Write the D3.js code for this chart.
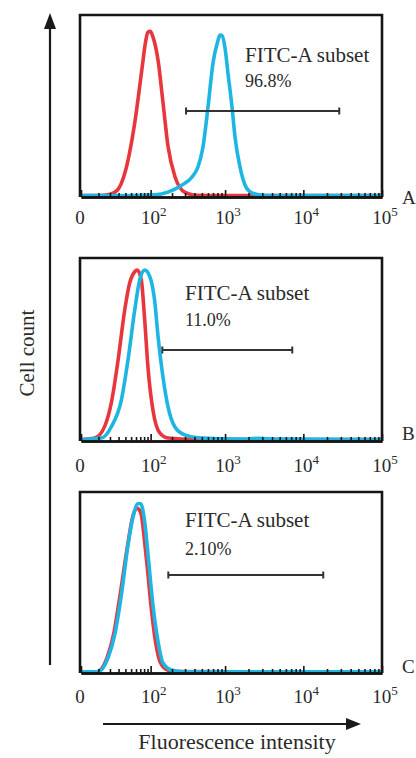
<!DOCTYPE html>
<html>
<head>
<meta charset="utf-8">
<title></title>
<script src="https://d3js.org/d3.v7.min.js"></script>
<style>
  body{margin:0;background:#fff;}
  text{font-family:"Liberation Serif","Times New Roman",serif;fill:#2a2a2a;}
</style>
</head>
<body>
<svg width="416" height="758"></svg>
<script>
// panel data
var panelNames = ['A', 'B', 'C'];
var gateTitle = 'FITC-A subset';
var gateLabels = ['96.8%', '11.0%', '2.10%'];
var gateRanges = [[309, 28640], [147, 7230], [178, 17920]];

// axis ticks
var majorTicks = [0, 100, 1000, 10000, 100000];
var tickBases = ['0', '10', '10', '10', '10'];
var tickExps = ['', '2', '3', '4', '5'];
var minorTicks = [10, 20, 30, 40, 50, 60, 70, 80, 90,
                  200, 300, 400, 500, 600, 700, 800, 900,
                  2000, 3000, 4000, 5000, 6000, 7000, 8000, 9000,
                  20000, 30000, 40000, 50000, 60000, 70000, 80000, 90000];

// histograms: fluorescence value, % of max count
var redA_x = [0, 10, 20, 29, 39, 58, 74, 84, 91, 99, 108, 128, 150, 176, 220, 299, 406, 1000, 100000];
var redA_y = [0.8, 0.8, 1.5, 4, 13, 42, 70, 85, 90.5, 91, 88, 75, 52, 28, 11, 2.5, 1, 0.8, 0.8];
var blueA_x = [0, 50, 116, 176, 273, 371, 444, 517, 601, 698, 810, 860, 920, 997, 1090, 1228, 1342, 1556, 1803, 2216, 2973, 5000, 100000];
var blueA_y = [0.8, 0.8, 1.2, 2.7, 6.6, 11, 16.5, 27.5, 49.5, 73.6, 86, 89, 88.5, 82, 68, 49.5, 33, 16.5, 6.6, 2.2, 1, 0.8, 0.8];

var redB_x = [0, 7.4, 15, 21.4, 29.3, 38.9, 47.3, 57.2, 62.9, 72.5, 81.7, 91.5, 108, 135, 176, 400, 100000];
var redB_y = [0.8, 1.6, 8, 20.8, 44, 71.6, 86.3, 92.5, 93.4, 88, 66, 40, 16.9, 4.4, 1.6, 0.8, 0.8];
var blueB_x = [0, 12.2, 21.4, 33.8, 44.3, 57.2, 68.5, 81.7, 97, 114, 128, 150, 176, 218, 296, 444, 1500, 2800, 4000, 100000];
var blueB_y = [0.8, 1.6, 7.8, 22.4, 44.3, 71.6, 88, 93.4, 90, 77, 57, 35, 18.8, 7.8, 3.3, 1.8, 1.0, 1.5, 1.0, 0.8];

var redC_x = [0, 9, 17.1, 23.8, 32, 43.4, 53.7, 63.3, 71.8, 81.7, 88.4, 101, 117.6, 139, 176, 257, 100000];
var redC_y = [0.6, 0.7, 8.3, 21, 43, 70, 87, 91, 88, 72, 60, 37.6, 17.3, 5.5, 1.5, 0.8, 0.6];
var blueC_x = [0, 9.7, 18, 25.2, 33.8, 44.3, 53.7, 64.5, 71, 81.7, 93.6, 108, 128, 150, 195, 296, 100000];
var blueC_y = [0.6, 0.7, 8.3, 21, 43, 70.6, 86.2, 93.5, 93.5, 83.4, 61.5, 37.6, 17.3, 5.5, 1.7, 0.7, 0.6];

var reds = [[redA_x, redA_y], [redB_x, redB_y], [redC_x, redC_y]];
var blues = [[blueA_x, blueA_y], [blueB_x, blueB_y], [blueC_x, blueC_y]];

// where each panel sits
var layout = [
  {top: 15,  bottom: 197, textX: 245, titleY: 62,  pctY: 87,  gateY: 111, tickY: 224, letterY: 204},
  {top: 258, bottom: 441, textX: 185, titleY: 300, pctY: 326, gateY: 350, tickY: 472, letterY: 440},
  {top: 492, bottom: 673, textX: 185, titleY: 527, pctY: 555, gateY: 575, tickY: 703, letterY: 673}
];

var RED = '#e8363f', BLUE = '#1db6e3';

var svg = d3.select('svg');
var x = d3.scaleSymlog().constant(15).domain([0, 100000]).range([81, 382]);

function zip(xs, ys) { return xs.map(function(v, i) { return [v, ys[i]]; }); }

layout.forEach(function(L, i) {
  var y = d3.scaleLinear().domain([0, 100]).range([L.bottom, L.top]);
  var g = svg.append('g');

  var line = d3.line()
    .x(function(d) { return x(d[0]); })
    .y(function(d) { return y(d[1]); })
    .curve(d3.curveMonotoneX);

  g.append('path').datum(zip(reds[i][0], reds[i][1]))
    .attr('d', line).attr('fill', 'none')
    .attr('stroke', RED).attr('stroke-width', 3.6).attr('stroke-linejoin', 'round');
  g.append('path').datum(zip(blues[i][0], blues[i][1]))
    .attr('d', line).attr('fill', 'none')
    .attr('stroke', BLUE).attr('stroke-width', 3.6).attr('stroke-linejoin', 'round');

  // frame
  g.append('path')
    .attr('d', 'M' + (x(0) - 1) + ',' + L.bottom + 'V' + L.top + 'H' + x(100000) + 'V' + L.bottom)
    .attr('fill', 'none').attr('stroke', '#151515').attr('stroke-width', 2.6);

  // axis (ticks pointing inside)
  var ax = g.append('g').attr('transform', 'translate(0,' + L.bottom + ')');
  ax.call(d3.axisBottom(x).tickValues(minorTicks).tickSize(-4).tickSizeOuter(0).tickFormat(''));
  ax.append('g').call(d3.axisBottom(x).tickValues(majorTicks).tickSize(-7).tickSizeOuter(0).tickFormat(''));
  ax.selectAll('.domain').attr('stroke', '#151515').attr('stroke-width', 2.6);
  ax.selectAll('.tick line').attr('stroke', '#151515').attr('stroke-width', 1.6);

  var lbl = g.selectAll('.tlabel').data(majorTicks).enter().append('text')
    .attr('class', 'tlabel')
    .attr('x', function(d, k) { return x(d) + (tickExps[k] ? 3 : -1); })
    .attr('y', L.tickY)
    .attr('text-anchor', 'middle')
    .style('font-size', '19px');
  lbl.append('tspan').text(function(d, k) { return tickBases[k]; });
  lbl.append('tspan').attr('dy', -8).style('font-size', '13px')
    .text(function(d, k) { return tickExps[k]; });

  g.append('text').attr('x', 402).attr('y', L.letterY)
    .style('font-size', '19px').text(panelNames[i]);

  // gate
  var gx0 = x(gateRanges[i][0]), gx1 = x(gateRanges[i][1]);
  g.append('path')
    .attr('d', 'M' + gx0 + ',' + L.gateY + 'H' + gx1 +
               'M' + gx0 + ',' + (L.gateY - 3.5) + 'v7' +
               'M' + gx1 + ',' + (L.gateY - 3.5) + 'v7')
    .attr('fill', 'none').attr('stroke', '#333').attr('stroke-width', 2);

  g.append('text').attr('x', L.textX).attr('y', L.titleY)
    .style('font-size', '21px').text(gateTitle);
  g.append('text').attr('x', L.textX).attr('y', L.pctY)
    .style('font-size', '18px').text(gateLabels[i]);
});

// y arrow
svg.append('line').attr('x1', 50).attr('x2', 50).attr('y1', 665).attr('y2', 27)
  .attr('stroke', '#1a1a1a').attr('stroke-width', 2.2);
svg.append('path').attr('d', 'M50,13L44,29H56Z').attr('fill', '#1a1a1a');
svg.append('text').attr('transform', 'translate(34,353) rotate(-90)')
  .attr('text-anchor', 'middle').style('font-size', '21px').text('Cell count');

// x arrow
svg.append('line').attr('x1', 103).attr('x2', 349).attr('y1', 724).attr('y2', 724)
  .attr('stroke', '#1a1a1a').attr('stroke-width', 2.2);
svg.append('path').attr('d', 'M361,724L346,718V730Z').attr('fill', '#1a1a1a');
svg.append('text').attr('x', 237).attr('y', 749)
  .attr('text-anchor', 'middle').style('font-size', '22px').text('Fluorescence intensity');
</script>
</body>
</html>
